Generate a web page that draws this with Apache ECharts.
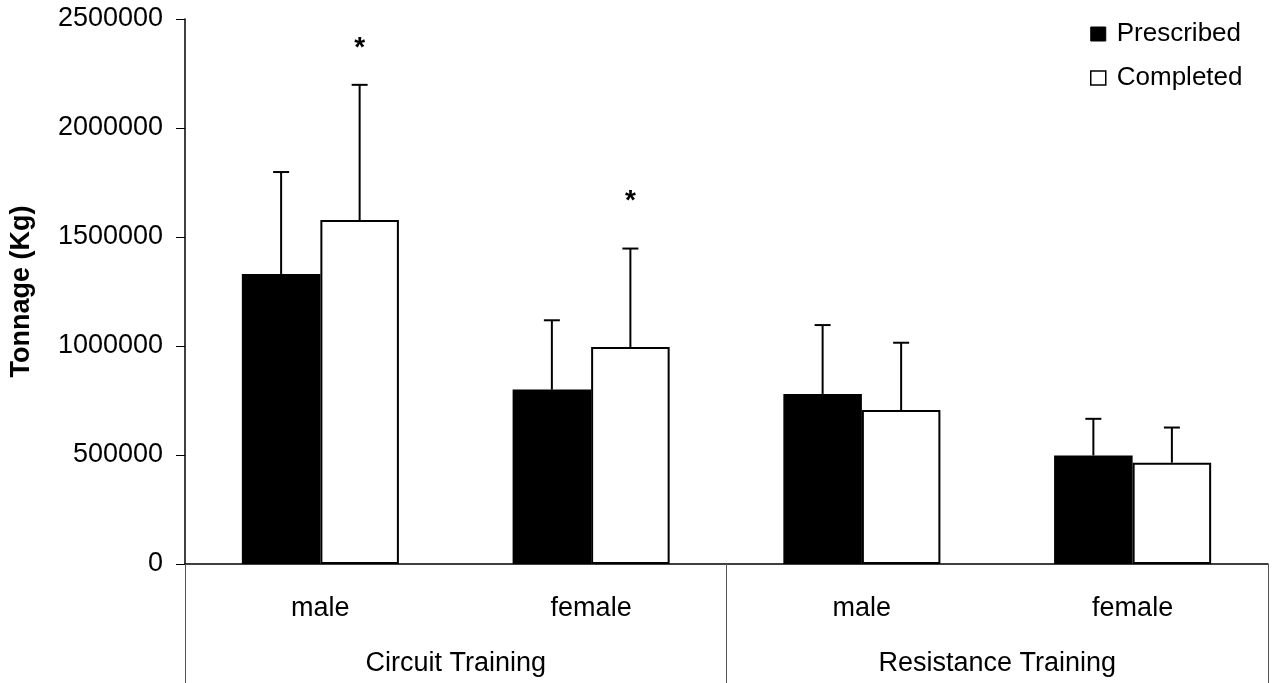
<!DOCTYPE html>
<html>
<head>
<meta charset="utf-8">
<script src="https://cdn.jsdelivr.net/npm/echarts@6/dist/echarts.min.js"></script>
<style>
  html, body { margin: 0; padding: 0; background: #fff; }
  #chart { width: 1276px; height: 683px; }
</style>
</head>
<body>
<div id="chart"></div>
<script>
// ---- data ----
const categories = ['male', 'female', 'male', 'female'];
const groups = ['Circuit Training', 'Resistance Training'];
const yTicks = [0, 500000, 1000000, 1500000, 2000000, 2500000];
const prescribed = [1330000, 800000, 780000, 498000];
const prescribedUpper = [1798000, 1118000, 1096000, 666000];
const completed = [1578000, 995000, 706000, 465000];
const completedUpper = [2198000, 1447000, 1015000, 626000];
const significance = [2385000, 1680000, null, null]; // '*' marks above Completed

const FONT = '"Liberation Sans", Arial, sans-serif';
const CATGAP = 0.42;

function errorSeries(upper, base, idx) {
  return {
    type: 'custom',
    xAxisIndex: 0,
    yAxisIndex: 0,
    z: 5,
    silent: true,
    data: upper.map((u, i) => [i, base[i], u]),
    renderItem: function (params, api) {
      const bw = api.size([1, 0])[0];
      const barW = bw * (1 - CATGAP) / 2;
      const c0 = api.coord([api.value(0), api.value(1)]);
      const c1 = api.coord([api.value(0), api.value(2)]);
      const x = c0[0] + (idx === 0 ? -barW / 2 : barW / 2);
      const cap = 8;
      return {
        type: 'group',
        children: [
          { type: 'line', shape: { x1: x, y1: c0[1], x2: x, y2: c1[1] },
            style: { stroke: '#000', lineWidth: 2 } },
          { type: 'line', shape: { x1: x - cap, y1: c1[1], x2: x + cap, y2: c1[1] },
            style: { stroke: '#000', lineWidth: 2 } }
        ]
      };
    }
  };
}

const chart = echarts.init(document.getElementById('chart'), null, { renderer: 'canvas' });
chart.setOption({
  animation: false,
  backgroundColor: '#fff',
  textStyle: { fontFamily: FONT },
  grid: { left: 185, right: 8, top: 19, bottom: 119, containLabel: false, outerBoundsMode: 'none' },
  legend: {
    orient: 'vertical',
    left: 1090,
    top: 20,
    padding: 0,
    itemWidth: 15,
    itemHeight: 14,
    itemGap: 16,
    icon: 'rect',
    textStyle: { fontFamily: FONT, fontSize: 26, color: '#000', lineHeight: 28, padding: [0, 0, 0, 6] },
    data: [
      { name: 'Prescribed', itemStyle: { color: '#000', borderColor: '#000', borderWidth: 1 } },
      { name: 'Completed', itemStyle: { color: '#fff', borderColor: '#000', borderWidth: 1.5 } }
    ]
  },
  xAxis: [
    {
      type: 'category',
      data: categories,
      position: 'bottom',
      axisLine: { show: true, lineStyle: { color: '#000', width: 1.5 } },
      axisTick: { show: false },
      axisLabel: { fontFamily: FONT, fontSize: 27, color: '#000', margin: 31, interval: 0 },
      splitLine: { show: false }
    },
    {
      type: 'category',
      data: groups,
      position: 'bottom',
      axisLine: { show: false },
      axisTick: { show: true, length: 119, interval: 0, lineStyle: { color: '#555', width: 1 } },
      axisLabel: { fontFamily: FONT, fontSize: 27, color: '#000', margin: 86, interval: 0 },
      splitLine: { show: false }
    }
  ],
  yAxis: {
    type: 'value',
    min: yTicks[0],
    max: yTicks[yTicks.length - 1],
    interval: yTicks[1] - yTicks[0],
    name: 'Tonnage (Kg)',
    nameLocation: 'middle',
    nameGap: 150,
    nameTextStyle: { fontFamily: FONT, fontSize: 27, fontWeight: 'bold', color: '#000' },
    axisLine: { show: true, lineStyle: { color: '#000', width: 1.5 } },
    axisTick: { show: true, length: 9, lineStyle: { color: '#000', width: 1 } },
    axisLabel: { fontFamily: FONT, fontSize: 27, color: '#000', margin: 22,
      padding: [5, 0, 0, 0], formatter: v => String(v) },
    splitLine: { show: false }
  },
  series: [
    {
      name: 'Prescribed',
      type: 'bar',
      data: prescribed,
      barGap: '0%',
      barCategoryGap: (CATGAP * 100) + '%',
      itemStyle: { color: '#000', borderColor: '#000', borderWidth: 1.5 },
      z: 2
    },
    {
      name: 'Completed',
      type: 'bar',
      data: completed,
      barGap: '0%',
      barCategoryGap: (CATGAP * 100) + '%',
      itemStyle: { color: '#fff', borderColor: '#000', borderWidth: 2 },
      z: 2
    },
    errorSeries(prescribedUpper, prescribed, 0),
    errorSeries(completedUpper, completed, 1),
    {
      type: 'custom',
      z: 6,
      silent: true,
      data: significance.map((s, i) => [i, s]).filter(d => d[1] != null),
      renderItem: function (params, api) {
        const bw = api.size([1, 0])[0];
        const barW = bw * (1 - CATGAP) / 2;
        const c = api.coord([api.value(0), api.value(1)]);
        return {
          type: 'text',
          style: {
            text: '*', x: c[0] + barW / 2, y: c[1] + 4,
            align: 'center', verticalAlign: 'middle',
            font: 'bold 28px ' + FONT, fill: '#000'
          }
        };
      }
    }
  ]
});
</script>
</body>
</html>
